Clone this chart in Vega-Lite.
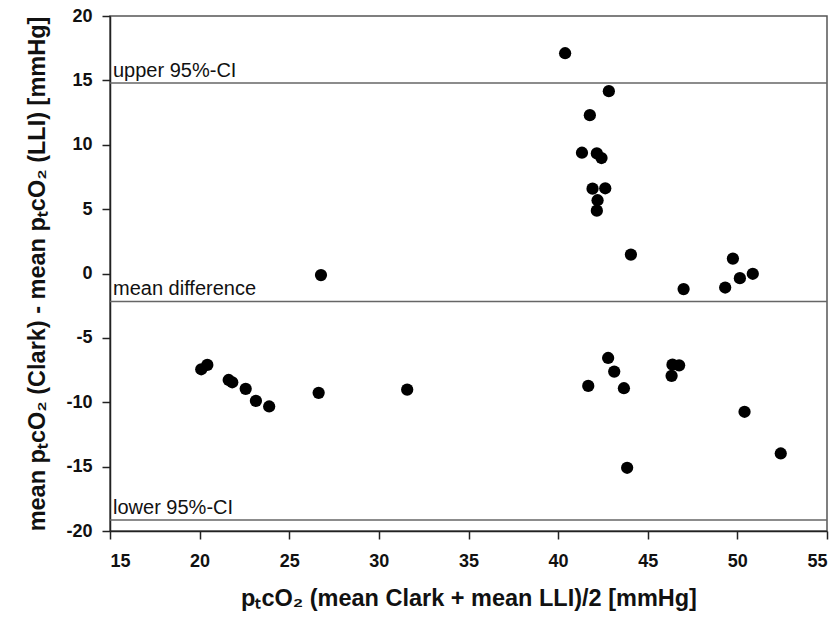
{
  "$schema": "https://vega.github.io/schema/vega-lite/v6.json",
  "width": 717,
  "height": 515,
  "autosize": {"type": "none"},
  "padding": {"left": 110, "top": 16, "right": 11, "bottom": 88},
  "background": "white",
  "config": {
    "font": "Liberation Sans",
    "view": {"stroke": "#555", "strokeWidth": 1.5},
    "axis": {"grid": false, "domainColor": "#222", "domainWidth": 1.5, "tickColor": "#222", "tickWidth": 1.5, "tickSize": 8,
             "labelFont": "Liberation Sans", "labelFontWeight": "bold", "labelFontSize": 18, "labelColor": "#111",
             "titleFont": "Liberation Sans", "titleFontWeight": "bold", "titleFontSize": 23.5, "titleColor": "#111",
             "labelExpr": "replace(datum.label, '−', '-')"}
  },
  "datasets": {
    "pts": [
      {"mean": 40.39, "diff": 17.11}, {"mean": 42.83, "diff": 14.16}, {"mean": 41.77, "diff": 12.3},
      {"mean": 41.33, "diff": 9.38}, {"mean": 42.16, "diff": 9.33}, {"mean": 42.42, "diff": 8.97},
      {"mean": 41.92, "diff": 6.59}, {"mean": 42.63, "diff": 6.62}, {"mean": 42.2, "diff": 5.69},
      {"mean": 42.16, "diff": 4.88}, {"mean": 44.06, "diff": 1.47}, {"mean": 49.75, "diff": 1.16},
      {"mean": 50.86, "diff": -0.02}, {"mean": 50.14, "diff": -0.36}, {"mean": 49.32, "diff": -1.09},
      {"mean": 47.0, "diff": -1.21}, {"mean": 26.77, "diff": -0.12},
      {"mean": 20.09, "diff": -7.44}, {"mean": 20.43, "diff": -7.1}, {"mean": 21.62, "diff": -8.27},
      {"mean": 21.82, "diff": -8.45}, {"mean": 22.57, "diff": -8.96}, {"mean": 23.14, "diff": -9.89},
      {"mean": 23.88, "diff": -10.33}, {"mean": 26.64, "diff": -9.27}, {"mean": 31.58, "diff": -9.02},
      {"mean": 41.68, "diff": -8.73}, {"mean": 42.79, "diff": -6.56}, {"mean": 43.13, "diff": -7.62},
      {"mean": 43.67, "diff": -8.91}, {"mean": 43.85, "diff": -15.09}, {"mean": 46.38, "diff": -7.08},
      {"mean": 46.75, "diff": -7.13}, {"mean": 46.33, "diff": -7.95}, {"mean": 50.4, "diff": -10.74},
      {"mean": 52.42, "diff": -13.98}
    ],
    "refs": [
      {"value": 14.8, "label": "upper 95%-CI"},
      {"value": -2.17, "label": "mean difference"},
      {"value": -19.15, "label": "lower 95%-CI"}
    ]
  },
  "layer": [
    {
      "data": {"name": "refs"},
      "mark": {"type": "rule", "color": "#666", "strokeWidth": 1.5},
      "encoding": {
        "y": {"field": "value", "type": "quantitative", "scale": {"domain": [-20, 20], "nice": false, "zero": false}}
      }
    },
    {
      "data": {"name": "refs"},
      "mark": {"type": "text", "align": "left", "baseline": "bottom", "dy": -2, "dx": 3, "fontSize": 20, "color": "#111"},
      "encoding": {
        "x": {"datum": 15, "scale": {"domain": [15, 55], "nice": false, "zero": false}},
        "y": {"field": "value", "type": "quantitative"},
        "text": {"field": "label"}
      }
    },
    {
      "data": {"name": "pts"},
      "mark": {"type": "circle", "size": 150, "color": "black", "opacity": 1},
      "encoding": {
        "x": {"field": "mean", "type": "quantitative", "scale": {"domain": [15, 55], "nice": false, "zero": false},
              "axis": {"values": [15, 20, 25, 30, 35, 40, 45, 50, 55], "labelPadding": 13, "titlePadding": 16,
                       "title": "pₜcO₂ (mean Clark + mean LLI)/2 [mmHg]"}},
        "y": {"field": "diff", "type": "quantitative", "scale": {"domain": [-20, 20], "nice": false, "zero": false},
              "axis": {"values": [-20, -15, -10, -5, 0, 5, 10, 15, 20], "labelPadding": 10, "titlePadding": 16,
                       "title": "mean pₜcO₂ (Clark) - mean pₜcO₂ (LLI) [mmHg]"}}
      }
    }
  ]
}
